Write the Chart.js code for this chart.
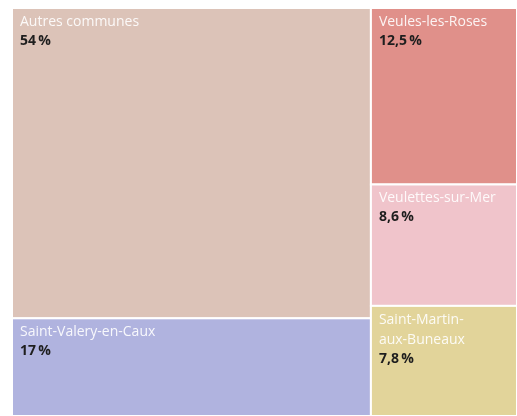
<!DOCTYPE html>
<html lang="fr">
<head>
<meta charset="utf-8">
<script src="https://cdn.jsdelivr.net/npm/chart.js@4/dist/chart.umd.min.js"></script>
<style>
  html, body { margin: 0; padding: 0; background: #fff; }
  #wrap { width: 517px; height: 416px; }
</style>
</head>
<body>
<div id="wrap"><canvas id="treemap"></canvas></div>
<script>
/* Donnees */
const communes = ['Autres communes', 'Saint-Valery-en-Caux', 'Veules-les-Roses', 'Veulettes-sur-Mer', 'Saint-Martin-aux-Buneaux'];
const parts = [54, 17, 12.5, 8.6, 7.8];
const couleurs = ['#dcc3b8', '#b0b3df', '#e0908a', '#f0c4cb', '#e2d49a'];

/* Squarify (meme logique que d3, ratio = nombre d'or) */
function squarify(values, x0, y0, x1, y1) {
    const ratio = (1 + Math.sqrt(5)) / 2;
    const cells = [];
    const n = values.length;
    let value = values.reduce((a, b) => a + b, 0);
    let i0 = 0, i1 = 0;
    while (i0 < n) {
        const dx = x1 - x0, dy = y1 - y0;
        let sumValue = values[i1++];
        let minValue = sumValue, maxValue = sumValue;
        const alpha = Math.max(dy / dx, dx / dy) / (value * ratio);
        let beta = sumValue * sumValue * alpha;
        let minRatio = Math.max(maxValue / beta, beta / minValue);
        for (; i1 < n; ++i1) {
            const v = values[i1];
            sumValue += v;
            if (v < minValue) minValue = v;
            if (v > maxValue) maxValue = v;
            beta = sumValue * sumValue * alpha;
            const newRatio = Math.max(maxValue / beta, beta / minValue);
            if (newRatio > minRatio) { sumValue -= v; break; }
            minRatio = newRatio;
        }
        const dice = dx < dy;
        if (dice) {
            const h = dy * sumValue / value;
            let x = x0;
            for (let i = i0; i < i1; i++) {
                const w = dx * values[i] / sumValue;
                cells[i] = {x0: x, y0: y0, x1: x + w, y1: y0 + h};
                x += w;
            }
            y0 += h;
        } else {
            const w = dx * sumValue / value;
            let y = y0;
            for (let i = i0; i < i1; i++) {
                const h = dy * values[i] / sumValue;
                cells[i] = {x0: x0, y0: y, x1: x0 + w, y1: y + h};
                y += h;
            }
            x0 += w;
        }
        value -= sumValue;
        i0 = i1;
    }
    return cells;
}

function formatPart(v) {
    return String(v).replace('.', ',') + '\u2009%';
}

// coupe le libelle sur le tiret le plus proche du milieu s'il est trop long
function wrapLabel(ctx, text, maxW) {
    if (ctx.measureText(text).width <= maxW) return [text];
    let best = -1;
    for (let i = 0; i < text.length - 1; i++) {
        if (text[i] === '-' && (best < 0 || Math.abs(i + 1 - text.length / 2) < Math.abs(best - text.length / 2))) {
            best = i + 1;
        }
    }
    if (best < 0) return [text];
    return [text.slice(0, best), text.slice(best)];
}

const treemapPlugin = {
    id: 'treemap',
    afterDatasetsDraw(chart) {
        const ctx = chart.ctx;
        const area = chart.chartArea;
        const xs = chart.scales.x;
        const ys = chart.scales.y;
        const w = area.right - area.left;
        const h = area.bottom - area.top;
        const cells = squarify(parts, 0, 0, w, h);

        ctx.save();
        cells.forEach((c, i) => {
            const left = xs.getPixelForValue(c.x0 / w);
            const right = xs.getPixelForValue(c.x1 / w);
            const top = ys.getPixelForValue(c.y0 / h);
            const bottom = ys.getPixelForValue(c.y1 / h);

            ctx.fillStyle = couleurs[i];
            ctx.fillRect(left, top, right - left, bottom - top);
            ctx.strokeStyle = '#ffffff';
            ctx.lineWidth = 2;
            ctx.strokeRect(left, top, right - left, bottom - top);

            // textes
            ctx.textBaseline = 'top';
            ctx.textAlign = 'left';
            ctx.font = '14px "Open Sans", sans-serif';
            const lines = wrapLabel(ctx, communes[i], right - left - 16);
            let y = top + 7;
            ctx.fillStyle = 'rgba(255,255,255,0.9)';
            for (const line of lines) {
                ctx.fillText(line, left + 8, y);
                y += 20;
            }
            ctx.font = 'bold 14px "Open Sans", sans-serif';
            ctx.fillStyle = '#1e1e1e';
            ctx.fillText(formatPart(parts[i]), left + 8, y - 1);
        });
        ctx.restore();
    }
};

function initChart() {
    const ctx = document.getElementById('treemap').getContext('2d');
    new Chart(ctx, {
        type: 'scatter',
        data: {
            datasets: [{ data: [] }]
        },
        options: {
            responsive: true,
            maintainAspectRatio: false,
            animation: false,
            layout: { padding: { left: 12, top: 8, right: 0, bottom: 0 } },
            plugins: { legend: { display: false }, tooltip: { enabled: false } },
            scales: {
                x: { type: 'linear', min: 0, max: 1, display: false },
                y: { type: 'linear', min: 0, max: 1, reverse: true, display: false }
            }
        },
        plugins: [treemapPlugin]
    });
}

initChart();
</script>
</body>
</html>
